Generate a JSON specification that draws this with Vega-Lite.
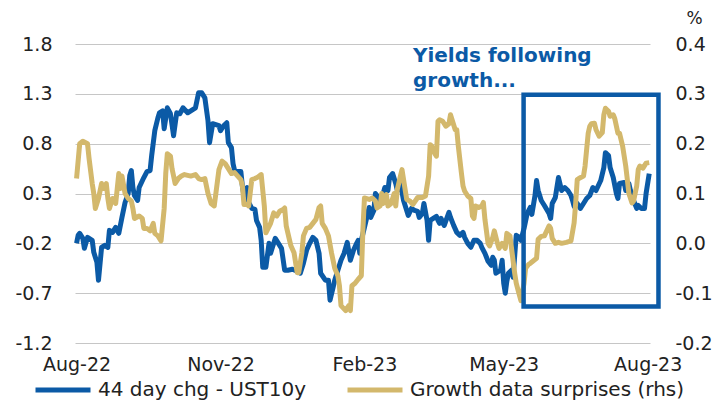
{
  "$schema": "https://vega.github.io/schema/vega-lite/v6.json",
  "width": 575,
  "height": 299,
  "autosize": {"type": "none"},
  "padding": {"left": 75, "top": 44, "right": 68, "bottom": 58},
  "background": "white",
  "config": {
    "view": {"stroke": null},
    "font": "DejaVu Sans",
    "locale": {"number": {"decimal": ".", "thousands": ",", "grouping": [3], "currency": ["$", ""], "minus": "-"}}
  },
  "datasets": {
    "ust": [
      {"date": "2022-08-01", "v": -0.20}, {"date": "2022-08-02", "v": -0.12}, {"date": "2022-08-03", "v": -0.10},
      {"date": "2022-08-05", "v": -0.15}, {"date": "2022-08-06", "v": -0.25}, {"date": "2022-08-08", "v": -0.14},
      {"date": "2022-08-11", "v": -0.17}, {"date": "2022-08-12", "v": -0.29}, {"date": "2022-08-14", "v": -0.39},
      {"date": "2022-08-15", "v": -0.57}, {"date": "2022-08-17", "v": -0.24}, {"date": "2022-08-19", "v": -0.22},
      {"date": "2022-08-21", "v": -0.24}, {"date": "2022-08-22", "v": -0.07}, {"date": "2022-08-24", "v": -0.09},
      {"date": "2022-08-26", "v": -0.04}, {"date": "2022-08-28", "v": -0.10}, {"date": "2022-08-30", "v": 0.06},
      {"date": "2022-09-01", "v": 0.21}, {"date": "2022-09-03", "v": 0.30}, {"date": "2022-09-04", "v": 0.48},
      {"date": "2022-09-05", "v": 0.53}, {"date": "2022-09-06", "v": 0.36}, {"date": "2022-09-07", "v": 0.28},
      {"date": "2022-09-09", "v": 0.23}, {"date": "2022-09-10", "v": 0.36}, {"date": "2022-09-13", "v": 0.46},
      {"date": "2022-09-15", "v": 0.52}, {"date": "2022-09-17", "v": 0.53}, {"date": "2022-09-18", "v": 0.68},
      {"date": "2022-09-20", "v": 0.93}, {"date": "2022-09-22", "v": 1.06}, {"date": "2022-09-23", "v": 1.11},
      {"date": "2022-09-25", "v": 1.13}, {"date": "2022-09-26", "v": 0.95}, {"date": "2022-09-28", "v": 1.16},
      {"date": "2022-09-30", "v": 1.10}, {"date": "2022-10-02", "v": 0.88}, {"date": "2022-10-04", "v": 1.11},
      {"date": "2022-10-06", "v": 1.10}, {"date": "2022-10-08", "v": 1.16}, {"date": "2022-10-11", "v": 1.11},
      {"date": "2022-10-13", "v": 1.13}, {"date": "2022-10-16", "v": 1.16}, {"date": "2022-10-18", "v": 1.31},
      {"date": "2022-10-20", "v": 1.31}, {"date": "2022-10-22", "v": 1.26}, {"date": "2022-10-24", "v": 1.03},
      {"date": "2022-10-25", "v": 0.81}, {"date": "2022-10-27", "v": 1.00}, {"date": "2022-10-29", "v": 0.99},
      {"date": "2022-10-31", "v": 0.98}, {"date": "2022-11-01", "v": 0.93}, {"date": "2022-11-03", "v": 0.98},
      {"date": "2022-11-05", "v": 1.01}, {"date": "2022-11-06", "v": 0.81}, {"date": "2022-11-08", "v": 0.76},
      {"date": "2022-11-09", "v": 0.60}, {"date": "2022-11-10", "v": 0.53}, {"date": "2022-11-12", "v": 0.52},
      {"date": "2022-11-14", "v": 0.52}, {"date": "2022-11-15", "v": 0.37}, {"date": "2022-11-16", "v": 0.28},
      {"date": "2022-11-18", "v": 0.36}, {"date": "2022-11-19", "v": 0.21}, {"date": "2022-11-21", "v": 0.15},
      {"date": "2022-11-23", "v": 0.14}, {"date": "2022-11-24", "v": 0.03}, {"date": "2022-11-26", "v": -0.04},
      {"date": "2022-11-27", "v": -0.17}, {"date": "2022-11-28", "v": -0.44}, {"date": "2022-11-30", "v": -0.44},
      {"date": "2022-12-02", "v": -0.20}, {"date": "2022-12-03", "v": -0.30}, {"date": "2022-12-05", "v": -0.20},
      {"date": "2022-12-06", "v": -0.15}, {"date": "2022-12-08", "v": -0.20}, {"date": "2022-12-10", "v": -0.25},
      {"date": "2022-12-12", "v": -0.47}, {"date": "2022-12-14", "v": -0.47}, {"date": "2022-12-17", "v": -0.46},
      {"date": "2022-12-20", "v": -0.48}, {"date": "2022-12-22", "v": -0.50}, {"date": "2022-12-24", "v": -0.40},
      {"date": "2022-12-26", "v": -0.27}, {"date": "2022-12-28", "v": -0.20}, {"date": "2022-12-30", "v": -0.14},
      {"date": "2023-01-01", "v": -0.17}, {"date": "2023-01-03", "v": -0.30}, {"date": "2023-01-04", "v": -0.50},
      {"date": "2023-01-07", "v": -0.57}, {"date": "2023-01-09", "v": -0.57}, {"date": "2023-01-10", "v": -0.77},
      {"date": "2023-01-12", "v": -0.64}, {"date": "2023-01-13", "v": -0.57}, {"date": "2023-01-15", "v": -0.47},
      {"date": "2023-01-17", "v": -0.37}, {"date": "2023-01-19", "v": -0.30}, {"date": "2023-01-21", "v": -0.19},
      {"date": "2023-01-23", "v": -0.37}, {"date": "2023-01-25", "v": -0.27}, {"date": "2023-01-27", "v": -0.20},
      {"date": "2023-01-28", "v": -0.17}, {"date": "2023-01-29", "v": -0.30}, {"date": "2023-01-30", "v": -0.17},
      {"date": "2023-02-01", "v": -0.04}, {"date": "2023-02-04", "v": 0.16}, {"date": "2023-02-05", "v": 0.06},
      {"date": "2023-02-07", "v": 0.13}, {"date": "2023-02-08", "v": 0.30}, {"date": "2023-02-10", "v": 0.26},
      {"date": "2023-02-11", "v": 0.20}, {"date": "2023-02-13", "v": 0.30}, {"date": "2023-02-14", "v": 0.36},
      {"date": "2023-02-16", "v": 0.33}, {"date": "2023-02-17", "v": 0.46}, {"date": "2023-02-19", "v": 0.50},
      {"date": "2023-02-21", "v": 0.40}, {"date": "2023-02-22", "v": 0.33}, {"date": "2023-02-24", "v": 0.40},
      {"date": "2023-02-26", "v": 0.23}, {"date": "2023-02-28", "v": 0.13}, {"date": "2023-03-01", "v": 0.08},
      {"date": "2023-03-03", "v": 0.15}, {"date": "2023-03-05", "v": 0.13}, {"date": "2023-03-07", "v": 0.12},
      {"date": "2023-03-08", "v": 0.06}, {"date": "2023-03-10", "v": 0.10}, {"date": "2023-03-11", "v": 0.20},
      {"date": "2023-03-13", "v": 0.03}, {"date": "2023-03-14", "v": -0.17}, {"date": "2023-03-15", "v": 0.03},
      {"date": "2023-03-17", "v": 0.05}, {"date": "2023-03-19", "v": 0.07}, {"date": "2023-03-20", "v": 0.03},
      {"date": "2023-03-21", "v": 0.00}, {"date": "2023-03-22", "v": 0.05}, {"date": "2023-03-24", "v": -0.02},
      {"date": "2023-03-27", "v": 0.11}, {"date": "2023-03-28", "v": 0.06}, {"date": "2023-03-30", "v": -0.02},
      {"date": "2023-04-01", "v": -0.09}, {"date": "2023-04-03", "v": -0.12}, {"date": "2023-04-05", "v": -0.09},
      {"date": "2023-04-06", "v": -0.14}, {"date": "2023-04-08", "v": -0.20}, {"date": "2023-04-10", "v": -0.24},
      {"date": "2023-04-12", "v": -0.17}, {"date": "2023-04-14", "v": -0.17}, {"date": "2023-04-16", "v": -0.20},
      {"date": "2023-04-17", "v": -0.24}, {"date": "2023-04-19", "v": -0.30}, {"date": "2023-04-21", "v": -0.38},
      {"date": "2023-04-23", "v": -0.42}, {"date": "2023-04-24", "v": -0.34}, {"date": "2023-04-25", "v": -0.37},
      {"date": "2023-04-26", "v": -0.50}, {"date": "2023-04-29", "v": -0.47}, {"date": "2023-04-30", "v": -0.37},
      {"date": "2023-05-01", "v": -0.60}, {"date": "2023-05-02", "v": -0.70}, {"date": "2023-05-03", "v": -0.58},
      {"date": "2023-05-04", "v": -0.50}, {"date": "2023-05-06", "v": -0.47}, {"date": "2023-05-07", "v": -0.54},
      {"date": "2023-05-09", "v": -0.12}, {"date": "2023-05-11", "v": -0.14}, {"date": "2023-05-12", "v": -0.17},
      {"date": "2023-05-14", "v": -0.05}, {"date": "2023-05-16", "v": 0.10}, {"date": "2023-05-18", "v": 0.16},
      {"date": "2023-05-19", "v": 0.09}, {"date": "2023-05-21", "v": 0.28}, {"date": "2023-05-22", "v": 0.43},
      {"date": "2023-05-23", "v": 0.33}, {"date": "2023-05-25", "v": 0.23}, {"date": "2023-05-27", "v": 0.18},
      {"date": "2023-05-30", "v": 0.10}, {"date": "2023-05-31", "v": 0.05}, {"date": "2023-06-01", "v": 0.20},
      {"date": "2023-06-03", "v": 0.26}, {"date": "2023-06-05", "v": 0.46}, {"date": "2023-06-07", "v": 0.33},
      {"date": "2023-06-09", "v": 0.36}, {"date": "2023-06-11", "v": 0.33}, {"date": "2023-06-13", "v": 0.28},
      {"date": "2023-06-14", "v": 0.23}, {"date": "2023-06-15", "v": 0.17}, {"date": "2023-06-17", "v": 0.20},
      {"date": "2023-06-19", "v": 0.15}, {"date": "2023-06-21", "v": 0.20}, {"date": "2023-06-23", "v": 0.25},
      {"date": "2023-06-25", "v": 0.28}, {"date": "2023-06-27", "v": 0.36}, {"date": "2023-06-29", "v": 0.33},
      {"date": "2023-07-02", "v": 0.43}, {"date": "2023-07-04", "v": 0.56}, {"date": "2023-07-05", "v": 0.71},
      {"date": "2023-07-07", "v": 0.68}, {"date": "2023-07-08", "v": 0.56}, {"date": "2023-07-10", "v": 0.46},
      {"date": "2023-07-12", "v": 0.30}, {"date": "2023-07-13", "v": 0.25}, {"date": "2023-07-14", "v": 0.40},
      {"date": "2023-07-17", "v": 0.41}, {"date": "2023-07-18", "v": 0.33}, {"date": "2023-07-20", "v": 0.40},
      {"date": "2023-07-21", "v": 0.33}, {"date": "2023-07-23", "v": 0.23}, {"date": "2023-07-25", "v": 0.15},
      {"date": "2023-07-26", "v": 0.18}, {"date": "2023-07-28", "v": 0.15}, {"date": "2023-07-30", "v": 0.15},
      {"date": "2023-07-31", "v": 0.30}, {"date": "2023-08-02", "v": 0.50}
    ],
    "growth": [
      {"date": "2022-08-01", "v": 0.13}, {"date": "2022-08-03", "v": 0.20}, {"date": "2022-08-05", "v": 0.205},
      {"date": "2022-08-08", "v": 0.20}, {"date": "2022-08-09", "v": 0.17}, {"date": "2022-08-11", "v": 0.12},
      {"date": "2022-08-12", "v": 0.10}, {"date": "2022-08-13", "v": 0.07}, {"date": "2022-08-15", "v": 0.09},
      {"date": "2022-08-17", "v": 0.12}, {"date": "2022-08-18", "v": 0.11}, {"date": "2022-08-20", "v": 0.12},
      {"date": "2022-08-21", "v": 0.09}, {"date": "2022-08-22", "v": 0.07}, {"date": "2022-08-24", "v": 0.09},
      {"date": "2022-08-26", "v": 0.08}, {"date": "2022-08-27", "v": 0.11}, {"date": "2022-08-28", "v": 0.14},
      {"date": "2022-08-29", "v": 0.11}, {"date": "2022-08-30", "v": 0.135}, {"date": "2022-09-01", "v": 0.10},
      {"date": "2022-09-03", "v": 0.09}, {"date": "2022-09-05", "v": 0.085}, {"date": "2022-09-06", "v": 0.07},
      {"date": "2022-09-07", "v": 0.05}, {"date": "2022-09-10", "v": 0.055}, {"date": "2022-09-12", "v": 0.05},
      {"date": "2022-09-13", "v": 0.03}, {"date": "2022-09-15", "v": 0.03}, {"date": "2022-09-17", "v": 0.025},
      {"date": "2022-09-19", "v": 0.04}, {"date": "2022-09-20", "v": 0.02}, {"date": "2022-09-22", "v": 0.015},
      {"date": "2022-09-24", "v": 0.005}, {"date": "2022-09-26", "v": 0.07}, {"date": "2022-09-27", "v": 0.14},
      {"date": "2022-09-28", "v": 0.18}, {"date": "2022-09-30", "v": 0.175}, {"date": "2022-10-01", "v": 0.15},
      {"date": "2022-10-03", "v": 0.12}, {"date": "2022-10-05", "v": 0.13}, {"date": "2022-10-07", "v": 0.135},
      {"date": "2022-10-09", "v": 0.138}, {"date": "2022-10-13", "v": 0.135}, {"date": "2022-10-16", "v": 0.138},
      {"date": "2022-10-18", "v": 0.13}, {"date": "2022-10-20", "v": 0.128}, {"date": "2022-10-22", "v": 0.13},
      {"date": "2022-10-24", "v": 0.10}, {"date": "2022-10-26", "v": 0.08}, {"date": "2022-10-28", "v": 0.075},
      {"date": "2022-10-31", "v": 0.148}, {"date": "2022-11-02", "v": 0.165}, {"date": "2022-11-04", "v": 0.16},
      {"date": "2022-11-06", "v": 0.15}, {"date": "2022-11-08", "v": 0.14}, {"date": "2022-11-10", "v": 0.142},
      {"date": "2022-11-12", "v": 0.135}, {"date": "2022-11-14", "v": 0.128}, {"date": "2022-11-15", "v": 0.115},
      {"date": "2022-11-16", "v": 0.078}, {"date": "2022-11-18", "v": 0.078}, {"date": "2022-11-19", "v": 0.075},
      {"date": "2022-11-21", "v": 0.128}, {"date": "2022-11-23", "v": 0.13}, {"date": "2022-11-25", "v": 0.133},
      {"date": "2022-11-27", "v": 0.138}, {"date": "2022-11-29", "v": 0.075}, {"date": "2022-11-30", "v": 0.021},
      {"date": "2022-12-03", "v": 0.04}, {"date": "2022-12-05", "v": 0.061}, {"date": "2022-12-07", "v": 0.055},
      {"date": "2022-12-09", "v": 0.065}, {"date": "2022-12-11", "v": 0.068}, {"date": "2022-12-12", "v": 0.071},
      {"date": "2022-12-13", "v": 0.035}, {"date": "2022-12-15", "v": 0.008}, {"date": "2022-12-16", "v": -0.005},
      {"date": "2022-12-18", "v": -0.019}, {"date": "2022-12-20", "v": -0.059}, {"date": "2022-12-21", "v": -0.059},
      {"date": "2022-12-23", "v": -0.019}, {"date": "2022-12-24", "v": 0.015}, {"date": "2022-12-26", "v": 0.03},
      {"date": "2022-12-28", "v": 0.032}, {"date": "2022-12-30", "v": 0.04}, {"date": "2023-01-01", "v": 0.048},
      {"date": "2023-01-03", "v": 0.072}, {"date": "2023-01-04", "v": 0.075}, {"date": "2023-01-05", "v": 0.04},
      {"date": "2023-01-07", "v": 0.03}, {"date": "2023-01-09", "v": 0.015}, {"date": "2023-01-11", "v": -0.02},
      {"date": "2023-01-13", "v": -0.05}, {"date": "2023-01-15", "v": -0.065}, {"date": "2023-01-16", "v": -0.085},
      {"date": "2023-01-17", "v": -0.125}, {"date": "2023-01-20", "v": -0.135}, {"date": "2023-01-22", "v": -0.125},
      {"date": "2023-01-23", "v": -0.135}, {"date": "2023-01-24", "v": -0.085}, {"date": "2023-01-26", "v": -0.08},
      {"date": "2023-01-28", "v": -0.072}, {"date": "2023-01-30", "v": -0.065}, {"date": "2023-01-31", "v": 0.027},
      {"date": "2023-02-01", "v": 0.091}, {"date": "2023-02-04", "v": 0.088}, {"date": "2023-02-06", "v": 0.091},
      {"date": "2023-02-08", "v": 0.085}, {"date": "2023-02-09", "v": 0.071}, {"date": "2023-02-11", "v": 0.075},
      {"date": "2023-02-12", "v": 0.10}, {"date": "2023-02-13", "v": 0.08}, {"date": "2023-02-15", "v": 0.098},
      {"date": "2023-02-16", "v": 0.075}, {"date": "2023-02-18", "v": 0.08}, {"date": "2023-02-20", "v": 0.10},
      {"date": "2023-02-21", "v": 0.075}, {"date": "2023-02-22", "v": 0.108}, {"date": "2023-02-24", "v": 0.135},
      {"date": "2023-02-25", "v": 0.148}, {"date": "2023-02-27", "v": 0.108}, {"date": "2023-02-28", "v": 0.088},
      {"date": "2023-03-02", "v": 0.085}, {"date": "2023-03-04", "v": 0.078}, {"date": "2023-03-07", "v": 0.092},
      {"date": "2023-03-10", "v": 0.092}, {"date": "2023-03-12", "v": 0.095}, {"date": "2023-03-14", "v": 0.135},
      {"date": "2023-03-15", "v": 0.198}, {"date": "2023-03-16", "v": 0.195}, {"date": "2023-03-18", "v": 0.18},
      {"date": "2023-03-19", "v": 0.175}, {"date": "2023-03-20", "v": 0.245}, {"date": "2023-03-21", "v": 0.248},
      {"date": "2023-03-23", "v": 0.245}, {"date": "2023-03-25", "v": 0.235}, {"date": "2023-03-27", "v": 0.24},
      {"date": "2023-03-28", "v": 0.258}, {"date": "2023-03-29", "v": 0.248}, {"date": "2023-03-31", "v": 0.228},
      {"date": "2023-04-01", "v": 0.228}, {"date": "2023-04-02", "v": 0.195}, {"date": "2023-04-04", "v": 0.14},
      {"date": "2023-04-05", "v": 0.115}, {"date": "2023-04-06", "v": 0.105}, {"date": "2023-04-08", "v": 0.095},
      {"date": "2023-04-10", "v": 0.09}, {"date": "2023-04-11", "v": 0.055}, {"date": "2023-04-12", "v": 0.05},
      {"date": "2023-04-13", "v": 0.075}, {"date": "2023-04-15", "v": 0.072}, {"date": "2023-04-17", "v": 0.075},
      {"date": "2023-04-18", "v": 0.082}, {"date": "2023-04-19", "v": 0.048}, {"date": "2023-04-21", "v": 0.0},
      {"date": "2023-04-22", "v": -0.005}, {"date": "2023-04-24", "v": 0.012}, {"date": "2023-04-25", "v": 0.025},
      {"date": "2023-04-27", "v": 0.0}, {"date": "2023-04-28", "v": -0.01}, {"date": "2023-04-30", "v": 0.0},
      {"date": "2023-05-02", "v": -0.01}, {"date": "2023-05-03", "v": 0.02}, {"date": "2023-05-05", "v": 0.015},
      {"date": "2023-05-06", "v": -0.01}, {"date": "2023-05-08", "v": -0.06}, {"date": "2023-05-09", "v": -0.08},
      {"date": "2023-05-10", "v": -0.092}, {"date": "2023-05-12", "v": -0.115}, {"date": "2023-05-14", "v": -0.08},
      {"date": "2023-05-15", "v": -0.05}, {"date": "2023-05-17", "v": -0.042}, {"date": "2023-05-18", "v": -0.04},
      {"date": "2023-05-20", "v": -0.035}, {"date": "2023-05-22", "v": -0.03}, {"date": "2023-05-23", "v": 0.008},
      {"date": "2023-05-25", "v": 0.014}, {"date": "2023-05-27", "v": 0.015}, {"date": "2023-05-30", "v": 0.035},
      {"date": "2023-05-31", "v": 0.03}, {"date": "2023-06-01", "v": 0.01}, {"date": "2023-06-03", "v": 0.0},
      {"date": "2023-06-05", "v": 0.002}, {"date": "2023-06-07", "v": 0.0}, {"date": "2023-06-10", "v": 0.002},
      {"date": "2023-06-13", "v": 0.005}, {"date": "2023-06-15", "v": 0.041}, {"date": "2023-06-16", "v": 0.081},
      {"date": "2023-06-17", "v": 0.128}, {"date": "2023-06-18", "v": 0.13}, {"date": "2023-06-21", "v": 0.135},
      {"date": "2023-06-22", "v": 0.155}, {"date": "2023-06-24", "v": 0.221}, {"date": "2023-06-25", "v": 0.235},
      {"date": "2023-06-26", "v": 0.24}, {"date": "2023-06-28", "v": 0.241}, {"date": "2023-06-29", "v": 0.228},
      {"date": "2023-07-01", "v": 0.215}, {"date": "2023-07-03", "v": 0.222}, {"date": "2023-07-04", "v": 0.258},
      {"date": "2023-07-05", "v": 0.271}, {"date": "2023-07-07", "v": 0.265}, {"date": "2023-07-08", "v": 0.255},
      {"date": "2023-07-10", "v": 0.258}, {"date": "2023-07-11", "v": 0.25}, {"date": "2023-07-13", "v": 0.221},
      {"date": "2023-07-14", "v": 0.221}, {"date": "2023-07-16", "v": 0.195}, {"date": "2023-07-18", "v": 0.155},
      {"date": "2023-07-19", "v": 0.128}, {"date": "2023-07-20", "v": 0.10}, {"date": "2023-07-22", "v": 0.081},
      {"date": "2023-07-23", "v": 0.085}, {"date": "2023-07-25", "v": 0.115}, {"date": "2023-07-26", "v": 0.148},
      {"date": "2023-07-27", "v": 0.155}, {"date": "2023-07-29", "v": 0.151}, {"date": "2023-07-31", "v": 0.161},
      {"date": "2023-08-02", "v": 0.162}
    ],
    "box": [
      {"date": "2023-05-13T17:00:00Z", "end": "2023-08-07T22:00:00Z", "top": 0.298, "bottom": -0.127}
    ],
    "note": [
      {"date": "2023-03-04", "v": 0.363, "label": "Yields following"},
      {"date": "2023-03-04", "v": 0.314, "label": "growth..."}
    ]
  },
  "encoding": {
    "x": {
      "field": "date",
      "type": "temporal",
      "scale": {
        "type": "utc",
        "domain": [
          {"year": 2022, "month": 7, "date": 31, "utc": true},
          {"year": 2023, "month": 8, "date": 2, "hours": 12, "utc": true}
        ]
      },
      "axis": {
        "title": null,
        "values": [
          {"year": 2022, "month": 8, "date": 1, "utc": true},
          {"year": 2022, "month": 11, "date": 1, "utc": true},
          {"year": 2023, "month": 2, "date": 1, "utc": true},
          {"year": 2023, "month": 5, "date": 1, "utc": true},
          {"year": 2023, "month": 8, "date": 1, "utc": true}
        ],
        "labelExpr": "utcFormat(datum.value, '%b-%y')",
        "grid": false,
        "domain": false,
        "ticks": false,
        "labelPadding": 12,
        "labelFontSize": 19,
        "labelColor": "#222222",
        "labelFont": "DejaVu Sans"
      }
    }
  },
  "layer": [
    {
      "data": {"name": "ust"},
      "mark": {"type": "line", "strokeWidth": 5, "strokeJoin": "round"},
      "encoding": {
        "y": {
          "field": "v",
          "type": "quantitative",
          "scale": {"domain": [-1.2, 1.8], "nice": false, "zero": false},
          "axis": {
            "orient": "left",
            "title": null,
            "values": [-1.2, -0.7, -0.2, 0.3, 0.8, 1.3, 1.8],
            "format": ".1f",
            "grid": true,
            "gridColor": "#C6C6C6",
            "gridWidth": 1,
            "domain": false,
            "ticks": false,
            "labelPadding": 23,
            "labelFontSize": 19,
            "labelColor": "#222222",
            "labelFont": "DejaVu Sans"
          }
        },
        "color": {
          "datum": "44 day chg - UST10y",
          "type": "nominal",
          "scale": {
            "domain": ["44 day chg - UST10y", "Growth data surprises (rhs)"],
            "range": ["#0B5AA6", "#D3B86C"]
          },
          "legend": {
            "title": null,
            "orient": "none",
            "legendX": -42,
            "legendY": 316,
            "direction": "horizontal",
            "symbolType": "stroke",
            "symbolSize": 3025,
            "symbolStrokeWidth": 5,
            "labelFontSize": 20,
            "labelFont": "DejaVu Sans",
            "labelColor": "#222222",
            "labelOffset": 5,
            "labelLimit": 400,
            "columnPadding": 30,
            "padding": 0
          }
        }
      }
    },
    {
      "data": {"name": "growth"},
      "mark": {"type": "line", "strokeWidth": 5, "strokeJoin": "round"},
      "encoding": {
        "y": {
          "field": "v",
          "type": "quantitative",
          "scale": {"domain": [-0.2, 0.4], "nice": false, "zero": false},
          "axis": {
            "orient": "right",
            "title": "%",
            "titleAngle": 0,
            "titleX": 44,
            "titleY": -26,
            "titleAlign": "center",
            "titleBaseline": "middle",
            "titleFontWeight": "normal",
            "titleFontSize": 17,
            "titleColor": "#222222",
            "titleFont": "DejaVu Sans",
            "values": [-0.2, -0.1, 0, 0.1, 0.2, 0.3, 0.4],
            "format": ".1f",
            "grid": false,
            "domain": false,
            "ticks": false,
            "labelPadding": 25,
            "labelFontSize": 19,
            "labelColor": "#222222",
            "labelFont": "DejaVu Sans"
          }
        },
        "color": {"datum": "Growth data surprises (rhs)", "type": "nominal"}
      }
    },
    {
      "layer": [
        {
          "data": {"name": "box"},
          "mark": {"type": "rect", "filled": false, "stroke": "#0B5AA6", "strokeWidth": 4.5},
          "encoding": {
            "x2": {"field": "end"},
            "y": {"field": "top", "type": "quantitative", "scale": {"domain": [-0.2, 0.4], "nice": false, "zero": false}, "axis": null},
            "y2": {"field": "bottom"}
          }
        },
        {
          "data": {"name": "note"},
          "mark": {"type": "text", "align": "left", "baseline": "alphabetic", "font": "DejaVu Sans", "fontWeight": "bold", "fontSize": 20, "color": "#0B5AA6"},
          "encoding": {
            "y": {"field": "v", "type": "quantitative", "scale": {"domain": [-0.2, 0.4], "nice": false, "zero": false}, "axis": null},
            "text": {"field": "label"}
          }
        }
      ]
    }
  ],
  "resolve": {"scale": {"y": "independent"}}
}
